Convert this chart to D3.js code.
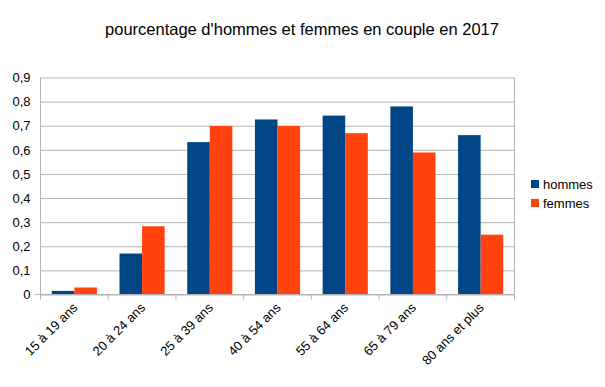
<!DOCTYPE html>
<html>
<head>
<meta charset="utf-8">
<script src="https://cdn.jsdelivr.net/npm/d3@7"></script>
<style>
    body { margin: 0; background: #fff; }
    text { font-family: "Liberation Sans", Arial, sans-serif; }
</style>
</head>
<body>
<svg id="chart" width="605" height="387"></svg>
<script>
    // donnees
    let categories = ["15 à 19 ans", "20 à 24 ans", "25 à 39 ans", "40 à 54 ans", "55 à 64 ans", "65 à 79 ans", "80 ans et plus"];
    let hommes = [0.015, 0.17, 0.632, 0.726, 0.742, 0.78, 0.661];
    let femmes = [0.029, 0.283, 0.699, 0.699, 0.669, 0.589, 0.248];
    let series = ["hommes", "femmes"];
    let colors = ["#004586", "#ff420e"];
    let yTicks = [0, 0.1, 0.2, 0.3, 0.4, 0.5, 0.6, 0.7, 0.8, 0.9];

    let svg = d3.select("#chart");
    let pLeft = 40.5, pRight = 514.5, pTop = 77.5, pBottom = 294.5;

    let x = d3.scaleBand().domain(categories).range([pLeft, pRight]);
    let xs = d3.scaleBand().domain(series).range([0, x.bandwidth()]).paddingInner(0).paddingOuter(0.5);
    let y = d3.scaleLinear().domain([0, 0.9]).range([pBottom, pTop]);
    let fmt = d => String(Math.round(d * 10) / 10).replace(".", ",");

    svg.append("text")
        .attr("x", 302).attr("y", 35)
        .attr("text-anchor", "middle")
        .attr("font-size", 16.5)
        .text("pourcentage d'hommes et femmes en couple en 2017");

    // grille + axe y
    let yAxis = svg.append("g")
        .attr("transform", `translate(${pLeft},0)`)
        .call(d3.axisLeft(y).tickValues(yTicks).tickSize(6).tickPadding(4).tickFormat(fmt));
    yAxis.select(".domain").remove();
    yAxis.selectAll("line").attr("stroke", "#b3b3b3").attr("x2", pRight - pLeft);
    yAxis.selectAll("text").attr("font-size", 13).attr("fill", "#000");

    svg.append("line")
        .attr("x1", pRight).attr("x2", pRight).attr("y1", pTop).attr("y2", pBottom)
        .attr("stroke", "#b3b3b3");
    svg.append("line")
        .attr("x1", pLeft).attr("x2", pLeft).attr("y1", pTop).attr("y2", pBottom)
        .attr("stroke", "#b3b3b3");

    // barres
    let rows = categories.map((c, i) => ({cat: c, vals: [hommes[i], femmes[i]]}));
    svg.append("g").selectAll("g")
        .data(rows)
        .join("g")
        .attr("transform", d => `translate(${x(d.cat)},0)`)
        .selectAll("rect")
        .data(d => d.vals.map((v, j) => ({s: series[j], v: v, c: colors[j]})))
        .join("rect")
        .attr("x", d => xs(d.s))
        .attr("width", xs.bandwidth())
        .attr("y", d => y(d.v))
        .attr("height", d => pBottom - y(d.v))
        .attr("fill", d => d.c);

    // axe x : ticks aux limites des categories
    let bounds = categories.map(c => x(c)).concat([pRight]);
    svg.append("line")
        .attr("x1", pLeft - 6).attr("x2", pRight).attr("y1", pBottom).attr("y2", pBottom)
        .attr("stroke", "#b3b3b3");
    svg.append("g").selectAll("line")
        .data(bounds)
        .join("line")
        .attr("x1", d => d).attr("x2", d => d)
        .attr("y1", pBottom).attr("y2", pBottom + 5)
        .attr("stroke", "#b3b3b3");
    svg.append("g").selectAll("text")
        .data(categories)
        .join("text")
        .attr("transform", d => `translate(${x(d) + x.bandwidth() / 2 + 4},${pBottom + 14}) rotate(-45)`)
        .attr("text-anchor", "end")
        .attr("font-size", 13)
        .text(d => d);

    // legende
    let legend = svg.append("g").attr("transform", "translate(531,179)");
    series.forEach((s, i) => {
        legend.append("rect")
            .attr("x", 0).attr("y", i * 19 + 1)
            .attr("width", 8).attr("height", 8)
            .attr("fill", colors[i]);
        legend.append("text")
            .attr("x", 12).attr("y", i * 19 + 10)
            .attr("font-size", 13)
            .text(s);
    });
</script>
</body>
</html>
